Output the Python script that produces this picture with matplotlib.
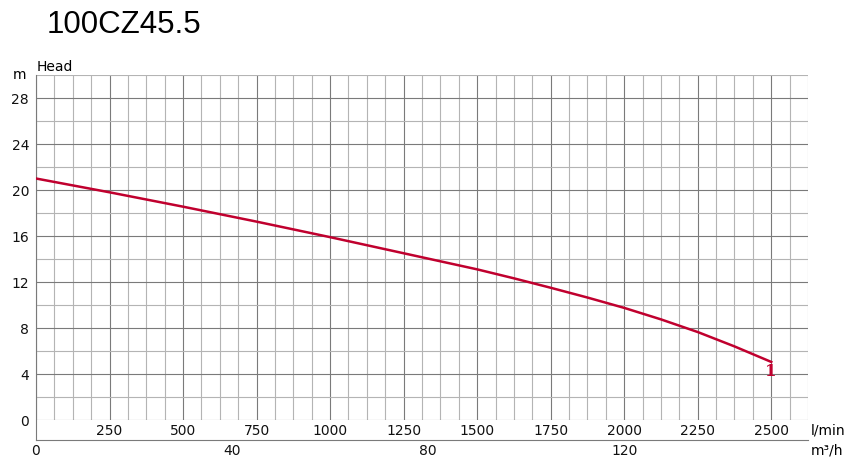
import numpy as np
import matplotlib
matplotlib.use('Agg')
import matplotlib.pyplot as plt

# pump curve
flow_lmin = [0, 250, 500, 750, 1000, 1250, 1500, 1625, 1750, 1875, 2000, 2125, 2250, 2375, 2500]
head_m = [21.0, 19.8, 18.55, 17.25, 15.9, 14.5, 13.1, 12.32, 11.5, 10.65, 9.75, 8.75, 7.65, 6.4, 5.05]
x_ticks = [250, 500, 750, 1000, 1250, 1500, 1750, 2000, 2250, 2500]
y_ticks = [0, 4, 8, 12, 16, 20, 24, 28]
m3h_ticks = [0, 40, 80, 120]

xmax, ymax = 2625, 30
W, H = 865, 476

fig = plt.figure(figsize=(W / 100, H / 100), dpi=100)
ax = fig.add_axes([36 / W, (H - 420) / H, 772 / W, 345 / H])
ax.set_xlim(0, xmax)
ax.set_ylim(0, ymax)

# grid
for x in np.arange(0, xmax + 1, 62.5):
    major = abs(x % 250) < 1e-6
    ax.axvline(x, color='#7a7a7a' if major else '#b4b4b4', lw=0.8, zorder=1)
for y in np.arange(0, ymax + 1, 2):
    major = y % 4 == 0
    ax.axhline(y, color='#7a7a7a' if major else '#b4b4b4', lw=0.8, zorder=1)

for s in ax.spines.values():
    s.set_visible(False)

ax.plot(flow_lmin, head_m, color='#c0002e', lw=1.8, zorder=3)
ax.text(flow_lmin[-1], head_m[-1] - 0.1, '1', color='#c0002e', ha='center', va='top',
        fontsize=12, fontweight='bold', family='DejaVu Serif', zorder=4)

ax.set_xticks(x_ticks)
ax.set_xticklabels([str(v) for v in x_ticks])
ax.set_yticks(y_ticks)
ax.set_yticklabels([str(v) for v in y_ticks])
ax.tick_params(axis='both', length=0, labelsize=10, colors='#111111')
ax.tick_params(axis='x', pad=3)
ax.tick_params(axis='y', pad=5)

# left spine extended down and second flow axis line
off = -20 / 345
ax.plot([0, 0], [off, 1], transform=ax.transAxes, color='#7a7a7a', lw=0.8, clip_on=False)

sec = ax.secondary_xaxis(off, functions=(lambda q: q * 0.06, lambda m: m / 0.06))
sec.set_xticks(m3h_ticks)
sec.tick_params(length=0, labelsize=10, pad=3, colors='#111111')
sec.spines['bottom'].set_color('#7a7a7a')
sec.spines['bottom'].set_linewidth(0.8)

fig.text(26 / W, 1 - 75 / H, 'm', ha='right', va='center', fontsize=10)
fig.text(37 / W, 1 - 67 / H, 'Head', ha='left', va='center', fontsize=10)
fig.text(811 / W, 1 - 430 / H, 'l/min', ha='left', va='center', fontsize=10)
fig.text(811 / W, 1 - 451 / H, 'm³/h', ha='left', va='center', fontsize=10)
fig.text(47 / W, 1 - 25 / H, '100CZ45.5', ha='left', va='center', fontsize=22.5,
         family='Liberation Sans')

fig.savefig('out.png', dpi=100)
